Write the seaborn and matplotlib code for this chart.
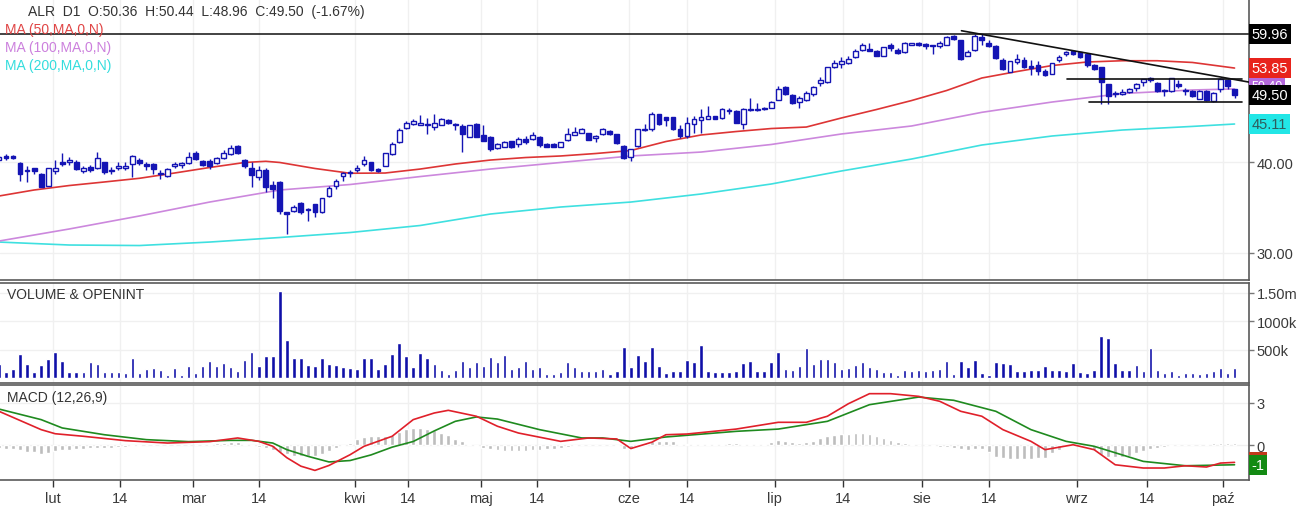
import numpy as np
import matplotlib
matplotlib.use("Agg")
import matplotlib.pyplot as plt
import matplotlib.transforms as mtransforms
from matplotlib.ticker import NullLocator
import seaborn as sns

# ------------------------------------------------------------------ data
opens = [40.3, 40.8, 40.8, 39.9, 38.9, 39.2, 38.5, 37.1, 38.9, 40.05,
         39.95, 40.05, 38.9, 39.4, 39.2, 39.95, 38.85, 39.2, 39.2, 39.75,
         40.2, 39.75, 39.75, 38.6, 38.3, 39.5, 39.65, 39.85, 41.1, 40.1,
         40.1, 39.85, 40.5, 41.05, 42.1, 40.3, 39.2, 38.15, 39.05, 37.2,
         37.6, 34.1, 34.3, 35.15, 34.4, 35.0, 34.2, 35.95, 37.1, 38.3,
         38.6, 39.05, 39.7, 39.95, 39.1, 39.5, 41.0, 42.6, 44.6, 45.1,
         45.0, 45.1, 44.65, 45.0, 45.7, 45.1, 44.8, 43.35, 45.1, 43.6,
         43.35, 41.8, 41.95, 42.7, 42.4, 43.0, 43.0, 43.35, 42.4, 42.35,
         42.0, 42.9, 43.6, 43.9, 43.8, 43.1, 43.7, 44.15, 43.7, 42.1,
         40.6, 42.1, 44.2, 44.35, 46.5, 46.05, 46.05, 44.35, 43.4, 45.1,
         45.7, 45.9, 46.2, 45.95, 47.0, 47.0, 45.1, 47.35, 47.1, 47.5,
         47.5, 48.7, 50.7, 49.5, 48.3, 48.6, 49.6, 51.35, 51.6, 54.0,
         54.5, 54.75, 55.7, 57.1, 57.2, 56.9, 56.0, 57.9, 57.1, 56.6,
         58.0, 58.2, 58.1, 57.9, 57.7, 58.0, 59.6, 58.8, 56.0, 57.0,
         59.5, 58.3, 57.8, 55.2, 53.25, 54.9, 55.2, 54.2, 54.3, 53.4,
         52.9, 55.2, 56.3, 56.9, 56.6, 56.3, 54.3, 54.0, 51.2, 49.8,
         49.6, 49.85, 50.5, 51.6, 52.2, 51.4, 50.3, 50.0, 51.15, 50.3,
         50.0, 48.9, 50.15, 48.5, 50.4, 51.8, 50.36]
highs = [40.8, 41.0, 40.9, 39.95, 39.5, 39.3, 38.6, 39.3, 40.2, 41.1,
         40.6, 40.2, 39.5, 39.6, 41.3, 40.05, 39.35, 39.95, 40.05, 40.95,
         40.5, 39.95, 39.85, 38.95, 39.2, 39.95, 40.05, 41.3, 41.4, 40.2,
         40.4, 40.6, 41.55, 42.2, 42.15, 40.4, 39.95, 39.55, 39.3, 37.7,
         37.7, 34.15, 34.9, 35.2, 34.55, 35.05, 35.7, 37.1, 37.95, 38.8,
         38.95, 39.65, 40.8, 40.0, 39.3, 41.15, 42.6, 44.6, 45.5, 45.8,
         46.45, 46.0, 46.55, 46.0, 45.8, 45.2, 45.1, 44.95, 45.2, 44.9,
         43.4, 42.5, 42.8, 42.75, 43.35, 43.45, 43.95, 43.4, 42.5, 42.45,
         42.6, 44.6, 44.7, 44.55, 43.9, 43.6, 44.6, 44.2, 43.75, 42.2,
         41.7, 44.4, 45.1, 46.9, 46.6, 46.1, 46.1, 44.95, 46.05, 46.3,
         47.3, 47.7, 46.3, 47.5, 47.5, 47.1, 47.5, 48.95, 48.2, 47.6,
         48.5, 50.8, 50.8, 49.6, 49.3, 50.0, 50.9, 52.3, 54.1, 55.2,
         55.7, 55.9, 57.2, 58.3, 58.2, 57.1, 57.6, 58.3, 57.3, 58.4,
         58.3, 58.4, 58.3, 58.0, 58.6, 59.6, 59.7, 58.8, 57.0, 59.96,
         59.9, 58.8, 57.9, 55.6, 55.1, 56.3, 55.8, 55.2, 55.0, 53.7,
         54.8, 56.1, 56.8, 57.0, 56.7, 56.35, 54.6, 54.05, 51.2, 50.1,
         50.4, 50.6, 51.4, 52.0, 52.35, 51.5, 50.4, 52.2, 51.85, 50.6,
         50.2, 50.3, 50.3, 49.9, 52.1, 52.0, 50.44]
lows = [40.2, 40.2, 40.35, 37.7, 37.5, 38.5, 37.0, 37.1, 38.5, 39.55,
        39.6, 39.05, 38.65, 38.75, 39.1, 38.5, 38.5, 38.95, 39.05, 38.15,
        39.6, 39.05, 38.5, 37.9, 38.2, 39.2, 39.2, 39.75, 40.3, 39.5,
        39.1, 39.8, 40.35, 40.9, 41.05, 39.2, 36.95, 37.8, 36.35, 35.65,
        33.9, 31.85, 34.1, 33.9, 33.2, 33.6, 34.0, 35.8, 36.7, 37.7,
        38.1, 38.75, 39.55, 38.85, 38.75, 39.45, 40.95, 42.5, 44.4, 45.0,
        44.9, 43.7, 44.2, 44.9, 45.1, 44.2, 41.25, 43.3, 43.3, 42.75,
        41.4, 41.7, 41.9, 41.8, 41.9, 42.4, 42.9, 41.9, 41.9, 41.9,
        41.95, 42.8, 43.5, 43.85, 42.85, 42.55, 43.5, 43.6, 42.4, 40.4,
        40.17, 42.0, 44.1, 44.17, 44.9, 44.8, 44.3, 43.2, 43.2, 43.8,
        43.85, 45.85, 45.8, 45.85, 46.5, 45.2, 44.35, 47.0, 47.0, 47.1,
        47.4, 48.6, 49.5, 48.1, 47.5, 48.5, 49.35, 50.8, 51.4, 53.8,
        53.85, 54.5, 55.6, 56.8, 56.75, 55.9, 55.9, 56.85, 56.3, 56.5,
        57.9, 57.7, 57.2, 56.3, 57.4, 57.9, 58.9, 55.2, 55.9, 56.9,
        58.0, 57.6, 55.5, 53.6, 53.2, 54.5, 53.8, 52.6, 52.6, 52.5,
        52.8, 54.9, 56.0, 56.1, 55.6, 54.0, 53.55, 48.1, 48.1, 49.2,
        49.4, 49.7, 50.15, 50.9, 51.5, 49.9, 49.25, 49.9, 50.5, 49.5,
        49.2, 48.8, 48.5, 48.4, 49.9, 50.4, 48.96]
closes = [40.6, 40.5, 40.5, 38.5, 39.05, 38.9, 37.0, 39.2, 39.2, 39.7,
          40.3, 39.1, 39.2, 38.95, 40.5, 38.8, 38.95, 39.45, 39.5, 40.8,
          39.85, 39.55, 39.1, 38.45, 39.1, 39.75, 39.85, 40.6, 40.4, 39.6,
          39.55, 40.5, 41.1, 41.8, 41.1, 39.55, 38.35, 39.0, 36.95, 36.7,
          34.3, 33.9, 34.65, 34.2, 34.5, 34.1, 35.65, 36.9, 37.7, 38.65,
          38.75, 39.2, 40.3, 38.95, 38.9, 41.1, 42.4, 44.2, 45.2, 45.6,
          45.2, 44.9, 45.2, 45.8, 45.2, 44.9, 43.7, 44.9, 43.35, 42.8,
          41.7, 42.35, 42.55, 41.9, 43.0, 42.55, 43.5, 42.25, 42.0, 42.0,
          42.55, 43.7, 44.05, 44.4, 42.9, 43.45, 44.4, 43.7, 42.45, 40.5,
          41.67, 44.35, 44.45, 46.6, 45.1, 45.7, 44.35, 43.45, 45.2, 45.8,
          46.05, 46.2, 45.9, 47.3, 47.2, 45.3, 47.35, 47.1, 47.35, 47.25,
          48.4, 50.4, 49.6, 48.2, 48.95, 49.75, 50.7, 51.8, 54.0, 54.75,
          55.05, 55.4, 56.75, 58.0, 56.9, 56.0, 57.5, 57.3, 56.4, 58.2,
          58.2, 57.95, 57.7, 57.7, 58.2, 59.5, 59.0, 55.5, 56.6, 59.6,
          58.8, 57.8, 55.6, 53.7, 55.0, 55.4, 54.1, 53.8, 53.4, 52.7,
          54.7, 55.7, 56.7, 56.3, 55.7, 54.4, 53.7, 51.6, 49.25, 49.55,
          49.95, 50.4, 51.2, 51.95, 51.8, 50.0, 50.0, 52.1, 50.8, 50.0,
          49.3, 50.15, 48.6, 49.8, 52.0, 50.8, 49.50]
volume_k = [253, 108, 166, 422, 253, 108, 236, 340, 468, 311,
            119, 119, 119, 282, 253, 108, 119, 119, 96, 352,
            91, 166, 178, 148, 66, 178, 61, 213, 96, 213,
            305, 213, 265, 195, 131, 323, 457, 213, 387, 387,
            1532, 677, 363, 352, 241, 213, 352, 258, 236, 195,
            178, 160, 352, 363, 166, 253, 433, 614, 387, 195,
            440, 363, 258, 150, 79, 148, 300, 195, 283, 218,
            370, 283, 416, 171, 195, 300, 166, 195, 79, 79,
            108, 283, 195, 126, 126, 126, 171, 73, 137, 544,
            195, 416, 300, 555, 213, 91, 126, 137, 329, 283,
            590, 137, 108, 108, 108, 137, 265, 311, 137, 126,
            283, 468, 171, 154, 213, 527, 248, 346, 346, 283,
            171, 190, 236, 283, 195, 170, 108, 108, 55, 154,
            137, 154, 126, 154, 166, 311, 79, 300, 195, 329,
            91, 61, 283, 265, 253, 126, 137, 154, 154, 213,
            154, 154, 137, 265, 108, 91, 154, 736, 701, 265,
            154, 154, 236, 137, 527, 154, 91, 137, 55, 91,
            91, 79, 91, 126, 177, 91, 177]

ma50_idx = [0, 5, 10, 15, 20, 25, 30, 35, 38, 40, 45, 50, 55, 60, 65, 70, 75,
            80, 85, 90, 95, 100, 105, 110, 115, 120, 125, 130, 135, 140, 145,
            150, 155, 160, 165, 170, 176]
ma50 = [35.92, 36.61, 37.13, 37.55, 37.99, 38.63, 39.31, 39.94, 40.09, 39.94,
        39.19, 38.60, 38.63, 39.12, 39.75, 40.25, 40.57, 40.77, 41.09, 41.48,
        42.68, 43.57, 44.05, 44.47, 44.68, 45.98, 47.23, 48.59, 50.16, 52.18,
        53.26, 54.28, 54.89, 55.11, 55.11, 54.81, 53.85]
ma_idx = [0, 10, 20, 30, 40, 50, 60, 70, 80, 90, 100, 110, 120, 130, 140,
          150, 160, 170, 176]
ma100 = [31.15, 32.36, 33.72, 35.24, 36.61, 37.25, 38.20, 39.12, 39.94, 40.77,
         41.28, 42.28, 43.71, 44.83, 46.81, 48.36, 49.68, 50.24, 50.40]
ma200 = [31.05, 30.76, 30.71, 31.05, 31.50, 32.00, 32.72, 33.93, 34.69, 35.24,
         36.15, 37.31, 38.88, 40.38, 42.21, 43.43, 44.26, 44.77, 45.11]

macd_idx = [0, 6, 8, 12, 18, 24, 30, 34, 37, 39, 41, 43, 45, 47, 50, 52, 56,
            59, 62, 64, 68, 71, 74, 80, 84, 88, 90, 93, 95, 98, 105, 111, 115,
            118, 121, 124, 127, 131, 134, 137, 140, 143, 147, 149, 153, 156,
            159, 163, 166, 169, 172, 174, 176]
macd_line = [2.39, 1.09, 0.80, 0.62, 0.31, 0.14, 0.24, 0.50, 0.26, -0.09,
             -0.90, -1.50, -1.80, -1.45, -0.69, -0.09, 0.62, 1.80, 2.27, 2.46,
             2.04, 1.33, 0.85, 0.26, 0.50, 0.43, -0.25, 0.20, 0.73, 0.78,
             1.13, 1.61, 1.61, 2.04, 2.93, 3.64, 3.64, 3.45, 3.10, 2.39,
             2.04, 1.09, 0.26, -0.33, 0.02, -0.33, -1.40, -1.63, -1.63, -1.47,
             -1.56, -1.28, -1.23]
signal_idx = [0, 6, 9, 15, 21, 27, 33, 36, 39, 41, 44, 47, 50, 53, 56, 59, 62,
              65, 68, 71, 77, 83, 86, 90, 95, 105, 111, 118, 124, 131, 136,
              142, 147, 152, 156, 163, 169, 176]
signal_line = [2.55, 1.80, 1.21, 0.73, 0.38, 0.24, 0.33, 0.33, 0.14, -0.33,
               -0.80, -1.20, -1.10, -0.70, -0.15, 0.25, 1.00, 1.68, 1.99, 1.84,
               1.09, 0.50, 0.50, 0.26, 0.57, 0.97, 1.13, 1.68, 2.86, 3.40,
               3.17, 2.39, 1.09, 0.26, -0.09, -1.16, -1.47, -1.40]
macd_hist = [-0.24, -0.26, -0.28, -0.35, -0.47, -0.52, -0.66, -0.54, -0.43, -0.38,
             -0.33, -0.31, -0.28, -0.24, -0.21, -0.19, -0.19, -0.17, -0.12, -0.07,
             -0.05, -0.03, -0.02, -0.02, 0.0, -0.02, -0.02, 0.02, 0.0, 0.03,
             0.05, 0.12, 0.15, 0.18, 0.18, 0.08, -0.05, -0.12, -0.2, -0.33,
             -0.47, -0.66, -0.76, -0.8, -0.78, -0.75, -0.66, -0.4, -0.2, -0.05,
             0.15, 0.4, 0.55, 0.62, 0.62, 0.66, 0.7, 0.9, 1.15, 1.2,
             1.2, 1.15, 1.05, 0.85, 0.7, 0.45, 0.25, 0.1, -0.05, -0.2,
             -0.3, -0.38, -0.42, -0.42, -0.42, -0.4, -0.38, -0.35, -0.3, -0.25,
             -0.2, -0.12, -0.05, 0.0, -0.02, 0.03, 0.02, -0.02, -0.1, -0.3,
             -0.25, 0.05, 0.15, 0.25, 0.3, 0.3, 0.25, 0.1, 0.05, 0.05,
             0.05, 0.08, 0.1, 0.1, 0.12, 0.15, 0.1, 0.08, 0.05, 0.05,
             0.2, 0.35, 0.3, 0.2, 0.15, 0.2, 0.3, 0.5, 0.65, 0.72,
             0.75, 0.78, 0.82, 0.87, 0.8, 0.65, 0.5, 0.35, 0.2, 0.12,
             0.05, 0.02, -0.02, -0.05, -0.12, -0.15, -0.2, -0.3, -0.32, -0.3,
             -0.3, -0.5, -0.85, -0.95, -1.0, -1.0, -1.0, -1.0, -0.95, -0.9,
             -0.6, -0.35, -0.1, 0.02, 0.0, -0.1, -0.35, -0.7, -0.85, -0.88,
             -0.85, -0.75, -0.6, -0.45, -0.3, -0.2, -0.15, -0.05, -0.03, -0.02,
             0.0, 0.02, 0.05, 0.12, 0.15, 0.15, 0.15]

# trend lines drawn on the chart (bar index, price)
trend_down_x = [137.1, 178.1]
trend_down_y = [60.6, 51.5]
top_level = 59.96
channel_x = [152.1, 177.0]
channel_hi = 52.05
channel_lo_x = [155.2, 177.0]
channel_lo = 48.41

x_tick_pos = [7.7, 17.2, 27.7, 37.0, 50.7, 58.3, 68.6, 76.6, 89.7, 98.0,
              110.5, 120.2, 131.5, 141.0, 153.5, 163.5, 174.4]
x_tick_labels = ["lut", "14", "mar", "14", "kwi", "14", "maj", "14", "cze",
                 "14", "lip", "14", "sie", "14", "wrz", "14", "paź"]

header = "ALR  D1  O:50.36  H:50.44  L:48.96  C:49.50  (-1.67%)"

# ------------------------------------------------------------------ style
sns.set_theme(style="white")
plt.rcParams['font.family'] = ['Liberation Sans', 'DejaVu Sans']

BLUE = "#1414b4"
SPINE = "#5a5a5a"
GRID = "#f0f0f0"
TXT = "#3a3a3a"
FS = 10.5
FS_T = 10

W, H = 1309, 510
fig = plt.figure(figsize=(W / 100, H / 100), dpi=100)
fig.patch.set_facecolor("white")


def px_axes(top, bottom, right=1249):
    return fig.add_axes([0, 1 - bottom / H, right / W, (bottom - top) / H])


ax_p = px_axes(0, 280.5)
ax_v = px_axes(283.5, 383.5)
ax_m = px_axes(386, 481)

XL = (0.14, 178.06)
idx = np.arange(len(closes))
o = np.array(opens)
h = np.array(highs)
l = np.array(lows)
c = np.array(closes)
up = c >= o

for ax in (ax_p, ax_v, ax_m):
    ax.set_xlim(*XL)
    ax.set_xticks(x_tick_pos)
    ax.grid(axis='x', color=GRID, lw=1, zorder=0)
    ax.yaxis.tick_right()
    ax.spines['left'].set_visible(False)
    for s in ('top', 'bottom', 'right'):
        ax.spines[s].set_color(SPINE)
        ax.spines[s].set_linewidth(1.2)
    ax.tick_params(axis='y', which='major', direction='out', length=3.5,
                   width=1, color='#777777', labelcolor=TXT, labelsize=FS,
                   pad=2, right=True, left=False)
    ax.set_axisbelow(True)
ax_p.spines['top'].set_visible(False)

# ------------------------------------------------------------------ price
ax_p.set_yscale('log')
ax_p.set_ylim(27.58, 67.0)
ax_p.yaxis.set_minor_locator(NullLocator())
ax_p.set_yticks([30, 40])
ax_p.set_yticklabels(["30.00", "40.00"])
ax_p.grid(axis='y', color=GRID, lw=1, zorder=0)

ax_p.vlines(idx, l, h, color=BLUE, lw=1, zorder=3)
ax_p.bar(idx[up], (c - o)[up], bottom=o[up], width=0.68, facecolor='white',
         edgecolor=BLUE, lw=1, zorder=4)
ax_p.bar(idx[~up], (o - c)[~up], bottom=c[~up], width=0.68, facecolor=BLUE,
         edgecolor=BLUE, lw=1, zorder=4)

sns.lineplot(x=ma_idx, y=ma200, ax=ax_p, color="#3fe0e0", lw=1.2, zorder=2)
sns.lineplot(x=ma_idx, y=ma100, ax=ax_p, color="#cc88dd", lw=1.2, zorder=2)
sns.lineplot(x=ma50_idx, y=ma50, ax=ax_p, color="#dd3535", lw=1.2, zorder=2)

ax_p.axhline(top_level, color="#222222", lw=1.2, zorder=5)
ax_p.plot(trend_down_x, trend_down_y, color="#111111", lw=1.2, zorder=5)
ax_p.plot(channel_x, [channel_hi, channel_hi], color="#111111", lw=1.2, zorder=5)
ax_p.plot(channel_lo_x, [channel_lo, channel_lo], color="#111111", lw=1.2, zorder=5)
ax_p.tick_params(axis='x', length=0, labelbottom=False)

blend_p = mtransforms.blended_transform_factory(ax_p.transAxes, ax_p.transData)


def side_label(ax, tr, y, text, fc, tc, z, fs=FS):
    ax.text(1.0 + 2.5 / 1249, y, text, transform=tr, ha='left', va='center',
            fontsize=fs, color=tc, zorder=z, clip_on=False,
            bbox=dict(boxstyle='square,pad=0.2', fc=fc, ec='none'))


side_label(ax_p, blend_p, top_level, f"{top_level:.2f}", "black", "white", 10)
side_label(ax_p, blend_p, ma50[-1], f"{ma50[-1]:.2f}", "#e8231c", "white", 10)
side_label(ax_p, blend_p, ma100[-1] + 0.45, f"{ma100[-1]:.2f}", "#b468dc",
           "white", 10, fs=9)
side_label(ax_p, blend_p, closes[-1], f"{closes[-1]:.2f}", "black", "white", 11)
side_label(ax_p, blend_p, ma200[-1], f"{ma200[-1]:.2f}", "#22e6e6", "#2f5c5c", 10)

# ------------------------------------------------------------------ volume
ax_v.set_ylim(-70, 1675)
ax_v.bar(idx, volume_k, width=0.5, color="#1010a8", zorder=3)
ax_v.set_yticks([500, 1000, 1500])
ax_v.set_yticklabels(["500k", "1000k", "1.50m"])
ax_v.grid(axis='y', color=GRID, lw=1, zorder=0)
ax_v.tick_params(axis='x', length=0, labelbottom=False)

# ------------------------------------------------------------------ MACD
ax_m.set_ylim(-2.48, 4.255)
ax_m.bar(idx, macd_hist, width=0.55, color="#bdbdbd", zorder=2)
sns.lineplot(x=signal_idx, y=signal_line, ax=ax_m, color="#1f8a1f", lw=1.2, zorder=3)
sns.lineplot(x=macd_idx, y=macd_line, ax=ax_m, color="#e0202a", lw=1.2, zorder=3)
ax_m.set_yticks([0, 3])
ax_m.set_yticklabels(["0", "3"])
ax_m.grid(axis='y', color=GRID, lw=1, zorder=0)
ax_m.set_xticklabels(x_tick_labels)
ax_m.tick_params(axis='x', direction='out', length=5, width=1, color='#333333',
                 labelcolor=TXT, labelsize=FS, pad=3, bottom=True)
blend_m = mtransforms.blended_transform_factory(ax_m.transAxes, ax_m.transData)
side_label(ax_m, blend_m, macd_line[-1], f"{macd_line[-1]:.0f}", "#c0391b", "white", 10)
side_label(ax_m, blend_m, signal_line[-1], f"{signal_line[-1]:.0f}", "#138a13", "white", 11)

for ax in (ax_p, ax_v, ax_m):
    ax.set_xlabel("")
    ax.set_ylabel("")

# ------------------------------------------------------------------ texts
fig.text(28 / W, 1 - 12 / H, header, ha='left', va='center', fontsize=FS_T,
         color="#333333")
fig.text(5 / W, 1 - 30 / H, "MA (50,MA,0,N)", ha='left', va='center',
         fontsize=FS_T, color="#e04545")
fig.text(5 / W, 1 - 48 / H, "MA (100,MA,0,N)", ha='left', va='center',
         fontsize=FS_T, color="#cc80dd")
fig.text(5 / W, 1 - 66 / H, "MA (200,MA,0,N)", ha='left', va='center',
         fontsize=FS_T, color="#33dddd")
fig.text(7 / W, 1 - 295 / H, "VOLUME & OPENINT", ha='left', va='center',
         fontsize=FS_T, color="#333333")
fig.text(7 / W, 1 - 398 / H, "MACD (12,26,9)", ha='left', va='center',
         fontsize=FS_T, color="#333333")

fig.savefig("out.png", dpi=100, facecolor="white")
